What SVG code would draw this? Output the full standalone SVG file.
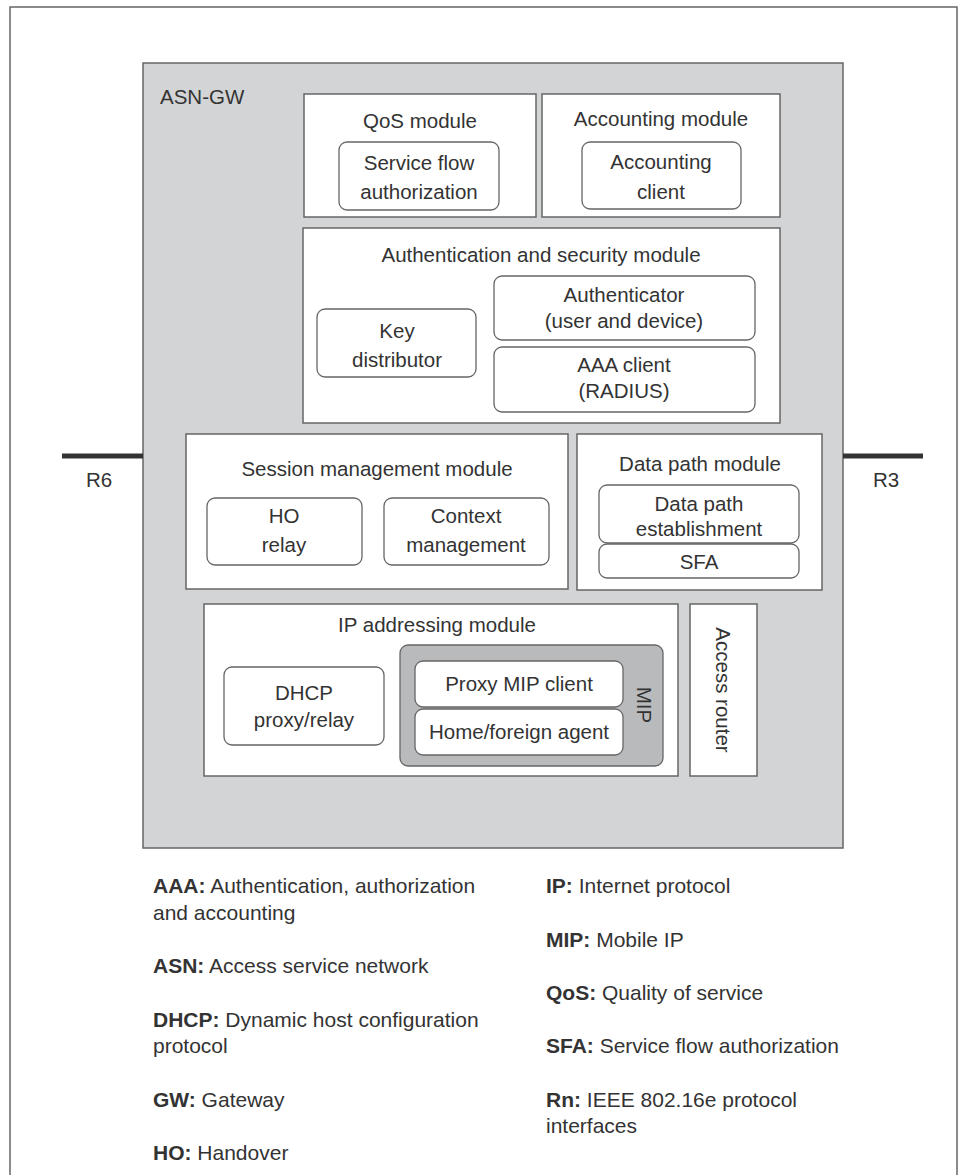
<svg xmlns="http://www.w3.org/2000/svg" width="961" height="1175" viewBox="0 0 961 1175">
  <style>
    text { font-family: "Liberation Sans", Arial, sans-serif; fill: #333; }
    .lbl { font-size: 20.5px; text-anchor: middle; }
    .leg { font-size: 21px; }
    .leg tspan.b { font-weight: bold; }
    .frame { fill: none; stroke: #666; stroke-width: 1.5; }
    .module { fill: #fff; stroke: #666; stroke-width: 1.5; }
    .unit { fill: #fff; stroke: #666; stroke-width: 1.3; }
    .iface { stroke: #333; stroke-width: 5; }
  </style>
  <rect width="961" height="1175" fill="#fff"/>
  <!-- page frame, open at the bottom -->
  <path class="frame" d="M10,1175 V7 H957 V1175"/>

  <!-- ASN gateway -->
  <g id="asn-gw">
    <rect x="143" y="63" width="700" height="785" fill="#d3d4d6" stroke="#666" stroke-width="1.5"/>
    <text x="160" y="104" style="font-size:20.5px">ASN-GW</text>
  </g>

  <!-- interfaces -->
  <g id="connectors">
    <line class="iface" x1="62" y1="456" x2="143" y2="456"/>
    <line class="iface" x1="843" y1="456" x2="923" y2="456"/>
  </g>
  <g id="r6"><text x="86" y="487" style="font-size:20.5px">R6</text></g>
  <g id="r3"><text x="873" y="487" style="font-size:20.5px">R3</text></g>

  <g id="qos-module">
    <rect class="module" x="304" y="94" width="232" height="123"/>
    <text class="lbl" x="420" y="128">QoS module</text>
  </g>
  <g id="service-flow-authorization">
    <rect class="unit" x="339" y="142" width="160" height="68" rx="8"/>
    <text class="lbl" x="419" y="170">Service flow</text>
    <text class="lbl" x="419" y="199">authorization</text>
  </g>

  <g id="accounting-module">
    <rect class="module" x="542" y="94" width="238" height="123"/>
    <text class="lbl" x="661" y="126">Accounting module</text>
  </g>
  <g id="accounting-client">
    <rect class="unit" x="582" y="142" width="159" height="67" rx="8"/>
    <text class="lbl" x="661" y="169">Accounting</text>
    <text class="lbl" x="661" y="199">client</text>
  </g>

  <g id="auth-security-module">
    <rect class="module" x="303" y="228" width="477" height="195"/>
    <text class="lbl" x="541" y="262">Authentication and security module</text>
  </g>
  <g id="key-distributor">
    <rect class="unit" x="317" y="309" width="159" height="68" rx="8"/>
    <text class="lbl" x="397" y="338">Key</text>
    <text class="lbl" x="397" y="367">distributor</text>
  </g>
  <g id="authenticator">
    <rect class="unit" x="494" y="276" width="261" height="64" rx="8"/>
    <text class="lbl" x="624" y="302">Authenticator</text>
    <text class="lbl" x="624" y="328">(user and device)</text>
  </g>
  <g id="aaa-client">
    <rect class="unit" x="494" y="347" width="261" height="65" rx="8"/>
    <text class="lbl" x="624" y="372">AAA client</text>
    <text class="lbl" x="624" y="398">(RADIUS)</text>
  </g>

  <g id="session-module">
    <rect class="module" x="186" y="434" width="382" height="155"/>
    <text class="lbl" x="377" y="476">Session management module</text>
  </g>
  <g id="ho-relay">
    <rect class="unit" x="207" y="498" width="155" height="67" rx="8"/>
    <text class="lbl" x="284" y="523">HO</text>
    <text class="lbl" x="284" y="552">relay</text>
  </g>
  <g id="context-management">
    <rect class="unit" x="384" y="498" width="165" height="67" rx="8"/>
    <text class="lbl" x="466" y="523">Context</text>
    <text class="lbl" x="466" y="552">management</text>
  </g>

  <g id="data-path-module">
    <rect class="module" x="577" y="434" width="245" height="156"/>
    <text class="lbl" x="700" y="471">Data path module</text>
  </g>
  <g id="data-path-establishment">
    <rect class="unit" x="599" y="485" width="200" height="58" rx="8"/>
    <text class="lbl" x="699" y="511">Data path</text>
    <text class="lbl" x="699" y="536">establishment</text>
  </g>
  <g id="sfa">
    <rect class="unit" x="599" y="544" width="200" height="34" rx="8"/>
    <text class="lbl" x="699" y="569">SFA</text>
  </g>

  <g id="ip-addressing-module">
    <rect class="module" x="204" y="604" width="474" height="172"/>
    <text class="lbl" x="437" y="632">IP addressing module</text>
  </g>
  <g id="dhcp">
    <rect class="unit" x="224" y="667" width="160" height="78" rx="8"/>
    <text class="lbl" x="304" y="700">DHCP</text>
    <text class="lbl" x="304" y="727">proxy/relay</text>
  </g>
  <g id="mip">
    <rect x="400" y="645" width="263" height="121" rx="8" fill="#b9babc" stroke="#666" stroke-width="1.3"/>
    <text class="lbl" transform="translate(637,705) rotate(90)">MIP</text>
  </g>
  <g id="proxy-mip-client">
    <rect class="unit" x="415" y="661" width="208" height="46" rx="8"/>
    <text class="lbl" x="519" y="691">Proxy MIP client</text>
  </g>
  <g id="home-foreign-agent">
    <rect class="unit" x="415" y="709" width="208" height="46" rx="8"/>
    <text class="lbl" x="519" y="739">Home/foreign agent</text>
  </g>

  <g id="access-router">
    <rect class="module" x="690" y="604" width="67" height="172"/>
    <text class="lbl" transform="translate(716,690) rotate(90)">Access router</text>
  </g>

  <!-- abbreviations -->
  <g id="legend">
    <text class="leg" x="153" y="893"><tspan class="b">AAA:</tspan> Authentication, authorization</text>
    <text class="leg" x="153" y="920">and accounting</text>
    <text class="leg" x="153" y="973"><tspan class="b">ASN:</tspan> Access service network</text>
    <text class="leg" x="153" y="1027"><tspan class="b">DHCP:</tspan> Dynamic host configuration</text>
    <text class="leg" x="153" y="1053">protocol</text>
    <text class="leg" x="153" y="1107"><tspan class="b">GW:</tspan> Gateway</text>
    <text class="leg" x="153" y="1160"><tspan class="b">HO:</tspan> Handover</text>

    <text class="leg" x="546" y="893"><tspan class="b">IP:</tspan> Internet protocol</text>
    <text class="leg" x="546" y="947"><tspan class="b">MIP:</tspan> Mobile IP</text>
    <text class="leg" x="546" y="1000"><tspan class="b">QoS:</tspan> Quality of service</text>
    <text class="leg" x="546" y="1053"><tspan class="b">SFA:</tspan> Service flow authorization</text>
    <text class="leg" x="546" y="1107"><tspan class="b">Rn:</tspan> IEEE 802.16e protocol</text>
    <text class="leg" x="546" y="1133">interfaces</text>
  </g>
</svg>
